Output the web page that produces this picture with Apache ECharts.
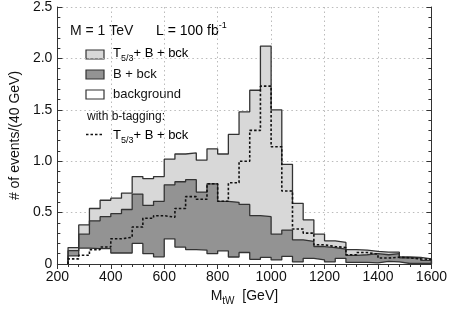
<!DOCTYPE html>
<html>
<head>
<meta charset="utf-8">
<script src="https://cdn.jsdelivr.net/npm/echarts@6/dist/echarts.min.js"></script>
<style>
html,body{margin:0;padding:0;background:#fff;}
#c{width:450px;height:317px;}
</style>
</head>
<body>
<div id="c"></div>
<script>
// Bin edges: 240 .. 1600 GeV, 40 GeV wide
var binStart = 240;
var binWidth = 40;
var signalTotal = [0.16, 0.38, 0.54, 0.62, 0.64, 0.69, 0.85, 0.83, 0.85, 1.02, 1.07, 1.08, 1.01, 1.12, 1.07, 1.26, 1.48, 1.69, 2.12, 1.50, 0.97, 0.59, 0.43, 0.29, 0.225, 0.21, 0.14, 0.135, 0.122, 0.115, 0.115, 0.068, 0.065, 0.05];
var bPlusBck = [0.13, 0.29, 0.42, 0.46, 0.49, 0.53, 0.68, 0.57, 0.61, 0.77, 0.80, 0.82, 0.70, 0.78, 0.61, 0.60, 0.58, 0.47, 0.46, 0.29, 0.33, 0.235, 0.22, 0.17, 0.16, 0.145, 0.083, 0.09, 0.10, 0.09, 0.10, 0.06, 0.06, 0.035];
var background = [0.08, 0.155, 0.15, 0.15, 0.107, 0.107, 0.2, 0.1, 0.07, 0.245, 0.165, 0.14, 0.135, 0.1, 0.128, 0.068, 0.112, 0.045, 0.065, 0.04, 0.075, 0.02, 0.055, 0.04, 0.02, 0.055, 0.015, 0.015, 0.01, 0.025, 0.02, 0.005, 0.005, 0.005];
var bTagged = [0.05, 0.085, 0.14, 0.165, 0.245, 0.26, 0.36, 0.445, 0.47, 0.455, 0.54, 0.655, 0.63, 0.78, 0.61, 0.79, 1.00, 1.30, 1.73, 1.14, 0.71, 0.34, 0.30, 0.187, 0.17, 0.16, 0.09, 0.112, 0.095, 0.058, 0.066, 0.06, 0.05, 0.045];

var FONT = "'Liberation Sans', Arial, Helvetica, sans-serif";
var LIGHT = '#d8d8d8', DARK = '#939393', EDGE = '#333';

function stepPoints(vals, closeLeft, closeRight) {
  var pts = [];
  if (closeLeft) pts.push([binStart, 0]);
  for (var i = 0; i < vals.length; i++) pts.push([binStart + i * binWidth, vals[i]]);
  var endX = binStart + vals.length * binWidth;
  pts.push([endX, vals[vals.length - 1]]);
  if (closeRight) pts.push([endX, 0]);
  return pts;
}

function histSeries(vals, fill) {
  return {
    type: 'line', step: 'end', symbol: 'none', silent: true,
    data: stepPoints(vals, true, true),
    lineStyle: { color: EDGE, width: 1.3 },
    areaStyle: { color: fill, opacity: 1 }
  };
}

var sub = { fontSize: 9, fontFamily: FONT, color: '#111', lineHeight: 10, padding: [7, 0, 0, 0], verticalAlign: 'top' };
var nrm = { fontSize: 13, fontFamily: FONT, color: '#111', lineHeight: 15, verticalAlign: 'top' };

var chart = echarts.init(document.getElementById('c'), null, { renderer: 'canvas' });
var axisCommon = {
  axisLine: { show: true, lineStyle: { color: EDGE, width: 1 } },
  axisTick: { show: true, inside: true, length: 5, lineStyle: { color: EDGE } },
  minorTick: { show: true, splitNumber: 5, length: 3, lineStyle: { color: EDGE } }
};
chart.setOption({
  animation: false,
  backgroundColor: '#fff',
  grid: { left: 52, right: 14, top: 6, bottom: 53 },
  xAxis: [
    Object.assign({
      type: 'value', min: 200, max: 1600, interval: 200, position: 'bottom',
      axisLabel: { fontSize: 14, fontFamily: FONT, color: '#111', margin: 6,
        formatter: function (v) { return String(v); } },
      splitLine: { show: true, lineStyle: { color: '#bbb', type: [1.5, 3], width: 1 } },
      name: '{n|M}{s|tW}{n|  [GeV]}', nameLocation: 'middle', nameGap: 25,
      nameTextStyle: { rich: {
        n: { fontSize: 14, fontFamily: FONT, color: '#111', lineHeight: 16, verticalAlign: 'top' },
        s: { fontSize: 10, fontFamily: FONT, color: '#111', lineHeight: 11, padding: [7, 0, 0, 0], verticalAlign: 'top' } } }
    }, axisCommon),
    Object.assign({
      type: 'value', min: 200, max: 1600, interval: 200, position: 'top',
      axisLabel: { show: false }, splitLine: { show: false }
    }, axisCommon)
  ],
  yAxis: [
    Object.assign({
      type: 'value', min: 0, max: 2.5, interval: 0.5, position: 'left',
      axisLabel: { fontSize: 14, fontFamily: FONT, color: '#111', margin: 5,
        formatter: function (v) { return v === 0 ? '0' : v.toFixed(1); } },
      splitLine: { show: true, lineStyle: { color: '#bbb', type: [1.5, 3], width: 1 } },
      name: '# of events/(40 GeV)', nameLocation: 'middle', nameGap: 30,
      nameTextStyle: { fontSize: 14, fontFamily: FONT, color: '#111' }
    }, axisCommon),
    Object.assign({
      type: 'value', min: 0, max: 2.5, interval: 0.5, position: 'right',
      axisLabel: { show: false }, splitLine: { show: false }
    }, axisCommon)
  ],
  series: [
    histSeries(signalTotal, LIGHT),
    histSeries(bPlusBck, DARK),
    histSeries(background, '#ffffff'),
    {
      type: 'line', step: 'end', symbol: 'none', silent: true,
      data: stepPoints(bTagged, true, false),
      lineStyle: { color: '#111', width: 1.6, type: [2.5, 2] }
    }
  ],
  graphic: [
    { type: 'text', left: 70, top: 24, style: { text: 'M = 1 TeV', font: '14px ' + FONT, fill: '#111' } },
    { type: 'text', left: 156, top: 21, style: {
        text: '{n|L = 100 fb}{s|-1}',
        rich: { n: { fontSize: 14, fontFamily: FONT, color: '#111', padding: [3, 0, 0, 0], lineHeight: 16, verticalAlign: 'top' },
                s: { fontSize: 9, fontFamily: FONT, color: '#111', lineHeight: 10, verticalAlign: 'top' } } } },
    { type: 'rect', shape: { x: 86, y: 50, width: 18, height: 9 }, style: { fill: LIGHT, stroke: EDGE, lineWidth: 1.2 } },
    { type: 'rect', shape: { x: 86, y: 70, width: 18, height: 9 }, style: { fill: DARK, stroke: EDGE, lineWidth: 1.2 } },
    { type: 'rect', shape: { x: 86, y: 90, width: 18, height: 9 }, style: { fill: '#fff', stroke: EDGE, lineWidth: 1.2 } },
    { type: 'text', left: 113, top: 47, style: { text: '{n|T}{s|5/3}{n|+ B + bck}', rich: { n: nrm, s: sub } } },
    { type: 'text', left: 113, top: 68, style: { text: 'B + bck', font: '13px ' + FONT, fill: '#111' } },
    { type: 'text', left: 113, top: 88, style: { text: 'background', font: '13px ' + FONT, fill: '#111' } },
    { type: 'text', left: 87, top: 111, style: { text: 'with b-tagging:', font: '12px ' + FONT, fill: '#111' } },
    { type: 'line', shape: { x1: 86, y1: 134.5, x2: 104, y2: 134.5 }, style: { stroke: '#111', lineWidth: 1.6, lineDash: [2.5, 2] } },
    { type: 'text', left: 113, top: 129, style: { text: '{n|T}{s|5/3}{n|+ B + bck}', rich: { n: nrm, s: sub } } }
  ]
});
</script>
</body>
</html>
